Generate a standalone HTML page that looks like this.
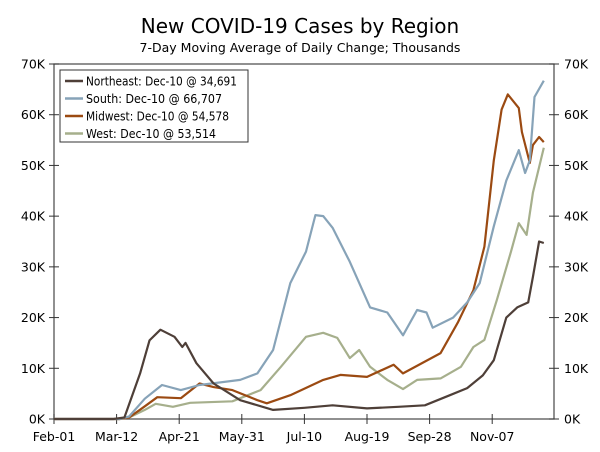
<!DOCTYPE html>
<html><head><meta charset="utf-8"><style>
html,body{margin:0;padding:0;background:#fff;}
svg{display:block;font-family:"DejaVu Sans","Liberation Sans",sans-serif;}
</style></head><body>
<svg id="chart" width="600" height="452" viewBox="0 0 600 452" xmlns="http://www.w3.org/2000/svg">
<text x="300" y="33" text-anchor="middle" font-size="20" fill="#000">New COVID-19 Cases by Region</text>
<text x="300" y="52" text-anchor="middle" font-size="12.5" fill="#000">7-Day Moving Average of Daily Change; Thousands</text>
<g id="axes"></g>
<g id="series"></g>
<g id="legend"></g>
</svg>
<script>
const xTickLabels = ["Feb-01","Mar-12","Apr-21","May-31","Jul-10","Aug-19","Sep-28","Nov-07"];
const yTicks = [0,10,20,30,40,50,60,70];
const seriesNames = ["Northeast","South","Midwest","West"];
const legendLabels = ["Northeast: Dec-10 @ 34,691","South: Dec-10 @ 66,707","Midwest: Dec-10 @ 54,578","West: Dec-10 @ 53,514"];
const neDays = [0,38,45,55,61,68,77,82,84,91,102,119,140,160,178,200,220,237,253,264,274,281,289,296,303,306,310,313];
const neVals = [0,0,0.3,9,15.5,17.6,16.2,14.2,15,11,7,3.7,1.8,2.2,2.7,2.1,2.4,2.7,4.7,6.1,8.6,11.6,20,22,23,28,35,34.7];
const soDays = [0,42,48,58,69,81,93,119,130,140,151,161,167,172,178,189,202,213,223,232,238,242,255,264,272,281,289,297,301,304,307,313];
const soVals = [0,0,0.5,4,6.7,5.7,6.7,7.7,9,13.6,26.8,33,40.2,40,37.7,31,22,21,16.5,21.5,21,18,20,23,26.8,38,47,53,48.5,51,63.5,66.7];
const mwDays = [0,42,48,58,66,81,93,102,114,130,136,151,172,183,200,217,223,247,258,268,275,281,286,290,297,299,304,306,310,313];
const mwVals = [0,0,0.3,2.5,4.3,4.1,7,6.3,5.7,3.7,3.1,4.7,7.7,8.7,8.3,10.7,9,13,19,25.4,34,51,61,64,61.3,56.6,50.5,54,55.6,54.6];
const weDays = [0,42,48,58,65,76,87,114,132,145,161,172,181,189,195,202,213,223,232,247,260,268,275,283,292,297,302,306,313];
const weVals = [0,0,0.3,1.8,3,2.4,3.2,3.5,5.7,10.3,16.2,17,16,12,13.6,10.3,7.7,5.9,7.7,8,10.3,14.2,15.6,23.5,33,38.6,36.3,44.6,53.5];
const colors = ["#4e3f38","#87a3b8","#9b4a12","#a6af8c"];
const legendWidths = [151,136,143,130];

const NS="http://www.w3.org/2000/svg";
const X0=54, X1=554, Y0=419, Y1=64;
const pxPerDay=62.6/40;
const xs=d=>X0+d*pxPerDay;
const ys=v=>Y0-(v/70)*(Y0-Y1);
function mk(tag,attrs,parent){const e=document.createElementNS(NS,tag);for(const k in attrs)e.setAttribute(k,attrs[k]);parent.appendChild(e);return e;}
const axes=document.getElementById('axes');
const frame=mk('rect',{x:X0,y:Y1,width:X1-X0,height:Y0-Y1,fill:'none',stroke:'#555','stroke-width':1.3},axes);


yTicks.forEach(v=>{
  const y=ys(v);
  const t1=mk('line',{x1:X0-5,x2:X0+5,y1:y,y2:y,stroke:'#333','stroke-width':1},axes);
  
  
  const t2=mk('line',{x1:X1-5,x2:X1+5,y1:y,y2:y,stroke:'#333','stroke-width':1},axes);
  
  
  const l=mk('text',{x:X0-9,y:y+4.5,'text-anchor':'end','font-size':12.5,fill:'#000'},axes);
  l.textContent=v+'K';
  
  
  const r=mk('text',{x:X1+10,y:y+4.5,'text-anchor':'start','font-size':12.5,fill:'#000'},axes);
  r.textContent=v+'K';
  
  
});
xTickLabels.forEach((lab,i)=>{
  const x=xs(i*40);
  const t=mk('line',{x1:x,x2:x,y1:Y0-5,y2:Y0+5,stroke:'#333','stroke-width':1},axes);
  
  
  const l=mk('text',{x:x,y:441,'text-anchor':'middle','font-size':12.5,fill:'#000'},axes);
  l.textContent=lab;
  
  
});
const sg=document.getElementById('series');
const allDays=[neDays,soDays,mwDays,weDays], allVals=[neVals,soVals,mwVals,weVals];
[3,2,1,0].forEach(i=>{
  const d=allDays[i].map((dd,j)=>(j?'L':'M')+xs(dd).toFixed(1)+','+ys(allVals[i][j]).toFixed(1)).join('');
  const p=mk('path',{d:d,fill:'none',stroke:colors[i],'stroke-width':2.2,'stroke-linejoin':'round'},sg);
  
  
});
const lg=document.getElementById('legend');
const box=mk('rect',{x:60,y:70,width:188,height:72,fill:'#fff',stroke:'#333','stroke-width':1},lg);


legendLabels.forEach((lab,i)=>{
  const y=81+i*17.5;
  const ln=mk('line',{x1:65,x2:83,y1:y,y2:y,stroke:colors[i],'stroke-width':2.5},lg);
  
  
  const t=mk('text',{x:86,y:y+4.5,'font-size':12,fill:'#000',textLength:legendWidths[i],lengthAdjust:'spacingAndGlyphs'},lg);
  t.textContent=lab;
  
  
});
</script>
</body></html>
